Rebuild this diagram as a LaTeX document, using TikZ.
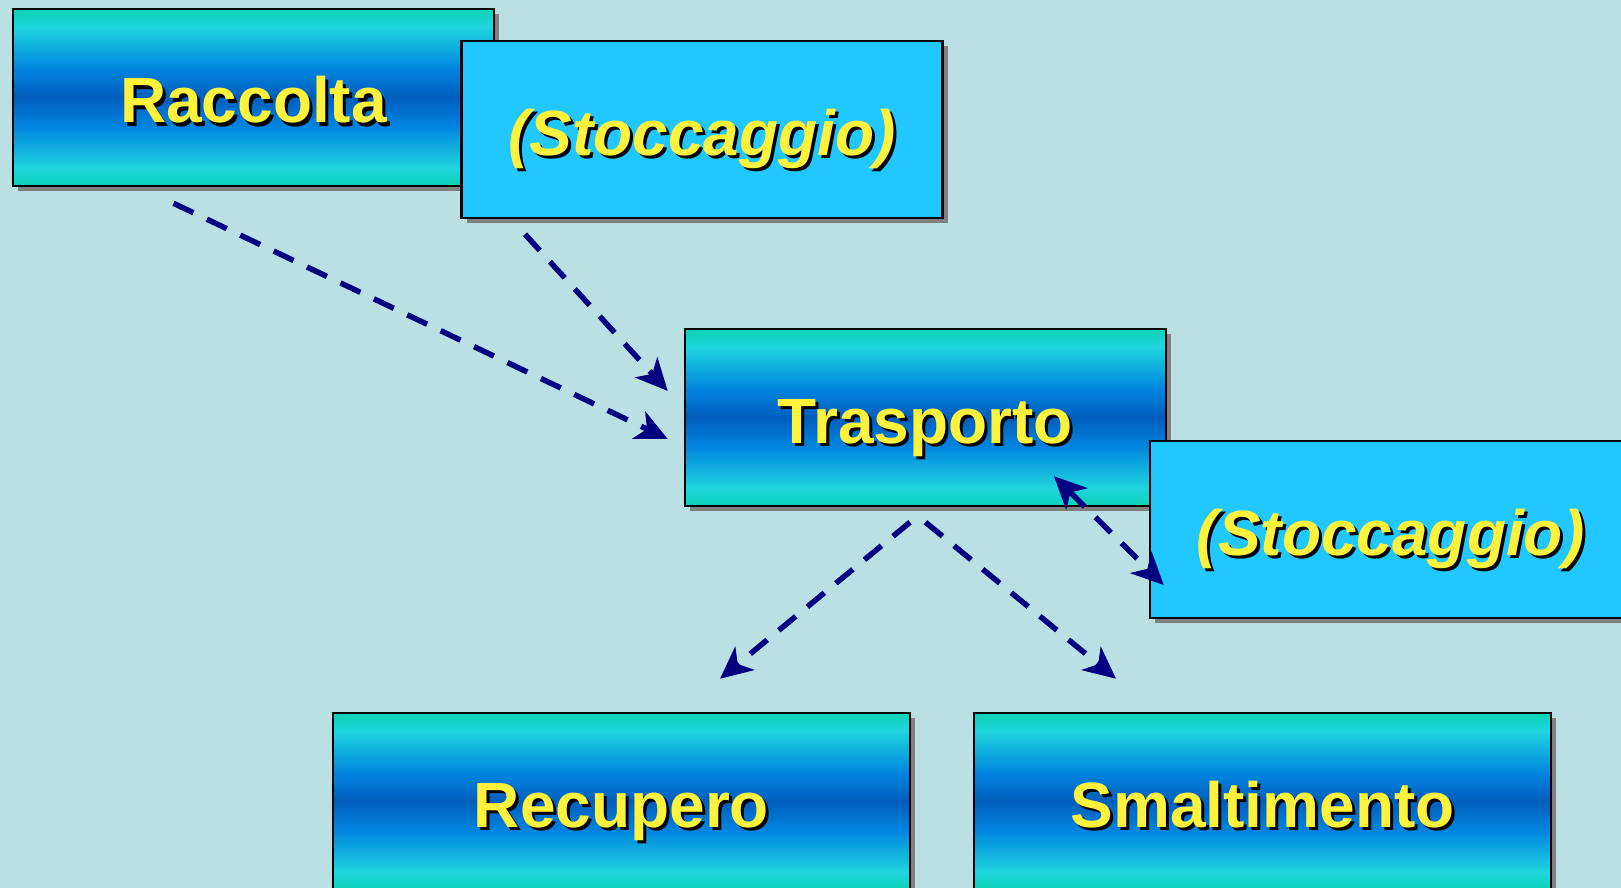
\documentclass[tikz,border=0pt]{standalone}
\usepackage{fontspec}
\setmainfont{Liberation Sans}
\usetikzlibrary{arrows.meta, calc, shadows}

\definecolor{bgcol}{RGB}{187,224,227}
\definecolor{gtop}{RGB}{12,210,180}
\definecolor{gcyan}{RGB}{32,214,222}
\definecolor{gblue}{RGB}{0,132,224}
\definecolor{gdark}{RGB}{0,94,188}
\definecolor{stockfill}{RGB}{32,200,255}
\definecolor{labelyellow}{RGB}{255,242,60}
\definecolor{arrowblue}{RGB}{0,0,128}

\pgfdeclareverticalshading{boxshade}{100bp}{color(0bp)=(gtop); color(25bp)=(gtop);
	color(30bp)=(gcyan); color(42bp)=(gblue); color(50bp)=(gdark); color(58bp)=(gblue);
	color(70bp)=(gcyan); color(75bp)=(gtop); color(100bp)=(gtop)}

\newcommand{\shadowtext}[1]{\leavevmode\rlap{\kern3pt\raisebox{-3pt}{\color{black}#1}}{\color{labelyellow}#1}}

\begin{document}
\begin{tikzpicture}[
	x = 1pt, y = -1pt,
	>= {Stealth[length = 32pt, width = 30pt, inset = 9pt]},
	stepbox/.style = {draw = black, line width = 2.5pt, inner sep = 0pt,
		minimum width = 481pt, minimum height = 177pt,
		text height = 51pt, text depth = 0pt,
		drop shadow = {shadow xshift = 5pt, shadow yshift = -5pt, fill = gray, opacity = 1},
		font = \fontsize{64}{70}\selectfont\bfseries},
	gradbox/.style = {stepbox, shading = boxshade},
	stockbox/.style = {stepbox, fill = stockfill, font = \fontsize{64}{70}\selectfont\bfseries\itshape},
	flow/.style = {arrowblue, line width = 5.5pt, dash pattern = on 22pt off 15pt, ->}
]

\useasboundingbox[fill = bgcol] (0, 0) rectangle (1621, 888);

\node[gradbox] (rac) at (253.5, 97.5) {\shadowtext{Raccolta}};
\node[stockbox] (sto1) at (702, 129.5) {\shadowtext{(Stoccaggio)}};

\node[gradbox] (tra) at (925.5, 417.5) {\shadowtext{Trasporto}};
\node[stockbox] (sto2) at (1390.5, 529.5) {\shadowtext{(Stoccaggio)}};

\node[gradbox, minimum width = 577pt] (rec) at (621.5, 801.5) {\shadowtext{Recupero}};
\node[gradbox, minimum width = 577pt] (sma) at (1262.5, 801.5) {\shadowtext{Smaltimento}};

% flussi
\draw[flow] ($(rac.south) + (-80, 16)$) -- ($(tra.west) + (-16, 21.5)$);
\draw[flow] ($(sto1.south) + (-177, 15)$) -- ($(tra.west) + (-16, -26.5)$);
\draw[flow, <->] ($(tra.south) + (128.5, -31)$) -- ($(sto2.west) + (15, 55.5)$);
\draw[flow] ($(tra.south) + (-15.5, 15)$) -- ($(rec.north) + (98.5, -33)$);
\draw[flow] ($(tra.south) + (0, 15)$) -- ($(sma.north) + (-146.5, -33)$);
\end{tikzpicture}
\end{document}
